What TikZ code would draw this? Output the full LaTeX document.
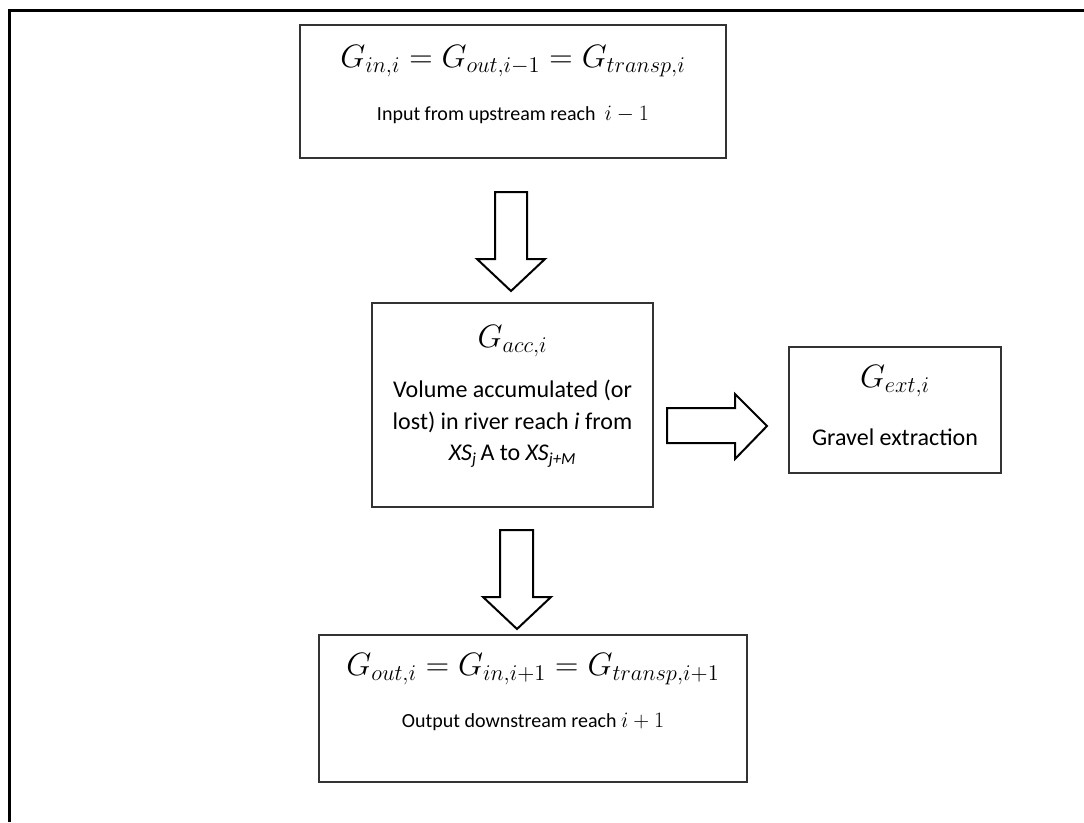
\documentclass[tikz,border=0pt]{standalone}
\usepackage{graphicx}
\usepackage{fontspec}
\setmainfont{Carlito}
\newcommand{\bigmath}[1]{\scalebox{1.56}{\fontsize{20.74}{25}\selectfont$#1$}}
\newcommand{\midmath}[1]{\scalebox{1.06}{\fontsize{20.74}{25}\selectfont$#1$}}
\tikzset{
  frameline/.style={line width=3pt, black},
  boxstyle/.style={draw=black!80, line width=1.3pt, inner sep=0pt},
  blockarrow/.style={draw=black, line width=2pt, fill=white, line join=miter},
  mathlbl/.style={inner sep=0pt},
  txtlbl/.style={inner sep=0pt, font=\fontsize{20}{29}\selectfont, align=center},
  bigtxt/.style={inner sep=0pt, font=\fontsize{24}{31.5}\selectfont, align=center},
}
\begin{document}
\begin{tikzpicture}[x=1pt,y=-1pt]
\useasboundingbox (0,0) rectangle (1084,822);
% outer frame (top and left)
\draw[frameline] (9.5,822) -- (9.5,10) -- (1084,10);

% boxes
\node[boxstyle, minimum width=426pt, minimum height=133pt] (top) at (513,91.5) {};
\node[boxstyle, minimum width=281pt, minimum height=204pt] (mid) at (512.5,405) {};
\node[boxstyle, minimum width=212pt, minimum height=126pt] (ext) at (895,410) {};
\node[boxstyle, minimum width=428pt, minimum height=147pt] (bot) at (533,708.5) {};

% top box texts
\node[mathlbl] (topf) at (513,61) {\bigmath{G_{in,i}=G_{out,i-1}=G_{transp,i}}};
\node[txtlbl] (topt) at (513,115) {Input from upstream reach \ \midmath{i-1}};

% middle box texts
\node[mathlbl] (midf) at (512.5,341) {\bigmath{G_{acc,i}}};
\node[bigtxt] (midt) at (512.5,424) {Volume accumulated (or\\lost) in river reach \textit{i} from\\\textit{XS}\textsubscript{\textit{j}}\,A to \textit{XS}\textsubscript{\textit{j+M}}};

% ext box texts
\node[mathlbl] (extf) at (895,381) {\bigmath{G_{ext,i}}};
\node[bigtxt] (extt) at (895,437) {Gravel extraction};

% bottom box texts
\node[mathlbl] (botf) at (533,669) {\bigmath{G_{out,i}=G_{in,i+1}=G_{transp,i+1}}};
\node[txtlbl] (bott) at (533,722) {Output downstream reach \midmath{i+1}};

% block arrows
\draw[blockarrow] (495,192) -- (527,192) -- (527,259) -- (545,259) -- (511,291) -- (477,259) -- (495,259) -- cycle;
\draw[blockarrow] (667,408) -- (735,408) -- (735,394) -- (767,426) -- (735,459) -- (735,443) -- (667,443) -- cycle;
\draw[blockarrow] (500,530) -- (533,530) -- (533,597) -- (551,597) -- (517,629) -- (483,597) -- (500,597) -- cycle;
\end{tikzpicture}
\end{document}
